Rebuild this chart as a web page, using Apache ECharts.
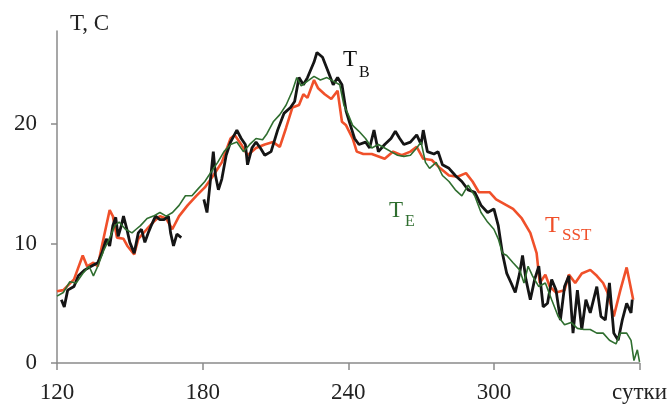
<!DOCTYPE html>
<html><head><meta charset="utf-8">
<script src="https://cdn.jsdelivr.net/npm/echarts@6/dist/echarts.min.js"></script>
<style>html,body{margin:0;padding:0;background:#fff}#c{width:670px;height:404px}</style>
</head><body><div id="c"></div>
<script>
// X ticks (days) and Y ticks
var xTicks = [120, 180, 240, 300, 360];
var xTickLabels = ['120', '180', '240', '300', 'сутки'];
var yTicks = [0, 10, 20];

// T_SST (red)
var daysSST = [120,122.6,127,130.6,132.4,135,136.8,138.5,140.3,141.7,143,144.7,147.4,149,151.8,153.5,157,159.7,162.4,165,167.5,170.3,173.8,177.4,180.9,184.4,187.9,191.5,193.2,195.9,198.5,202,205.6,209,211.8,214.4,217,219.7,221.5,223.2,225.9,227.6,230.3,233,235.6,237.4,239.1,241.8,243.5,246.2,249.7,255,258.5,262,265.6,268.2,270.9,274.4,277.9,281.5,285,288.5,291.2,293.8,298.2,300.9,304.4,307.9,311.5,315,317.6,318.9,321.2,323,325.6,329.1,330.9,333.5,336.2,339.7,342.4,345,346.8,349.4,352.1,354.7,357.4];
var valsSST = [6.0,6.1,7.0,9.0,8.1,8.4,8.1,9.8,11.5,12.8,12.3,10.5,10.4,9.8,9.1,10.4,11.2,11.8,12.3,12.1,11.2,12.3,13.2,14.0,14.7,15.7,16.8,18.8,19.1,18.3,17.4,18.0,18.3,18.5,18.1,19.7,21.4,21.6,22.5,22.2,23.7,23.0,22.5,22.1,22.8,20.2,19.9,18.8,17.7,17.5,17.5,17.1,17.7,17.4,17.7,18.1,17.1,17.0,16.3,15.7,15.6,15.9,15.2,14.3,14.3,13.7,13.3,12.9,12.1,10.9,9.2,6.7,7.4,6.4,5.9,6.1,7.4,6.7,7.5,7.8,7.3,6.7,5.9,3.9,6.1,8.0,5.3];

// T_B (black); '-' marks the gap
var daysB = [121.8,123,124.4,127,128.8,131.5,134.1,136.8,138.5,140.3,141.7,143,144.2,145.2,146.5,147.4,148.8,150,151.8,153.5,154.8,156.2,157.6,158.8,160.6,162.4,164.1,165.9,166.8,168,169.4,171.2,175,180.5,181.8,183,184.4,185.3,186.5,187.9,189.7,191.5,194.1,195.9,197.6,198.5,200.3,202,203.8,205.6,208.2,210.9,213.5,216.2,217.9,219.7,221.5,223.2,225.9,227.1,229.4,232.1,233.8,235.6,237.4,239.1,240.9,242.6,244.4,247.1,248.8,250.6,252.4,255,257.6,259.4,261.2,262.9,265.6,268.2,270,270.9,272.6,275.3,277,278.8,281.5,284.1,286.8,289.4,292.1,294.7,297.4,300,301.8,303.5,305.3,307.1,308.8,310.6,311.8,313.2,315,316.8,318.5,320.3,322.1,323.8,325.6,327.4,329.1,330.9,332.6,334.4,336.2,337.9,339.7,342.4,344.1,345.9,347.6,349.4,351.2,352.9,354.7,356.5,357];
var valsB = [5.3,4.7,6.1,6.4,7.3,7.8,8.1,8.4,9.2,10.4,9.8,11.5,12.2,10.6,11.5,12.3,11.2,10.1,9.2,10.9,11.2,10.1,10.9,11.5,12.3,12.0,12.0,12.3,10.9,9.8,10.8,10.5,'-',13.7,12.6,14.9,17.7,15.7,14.5,15.4,17.4,18.5,19.5,18.8,18.3,16.6,18.0,18.5,18.0,17.4,17.7,19.5,20.9,21.4,21.9,23.9,23.3,23.9,25.2,26.0,25.6,24.2,23.3,23.9,23.3,21.1,19.9,18.8,18.3,18.5,18.0,19.5,17.7,18.3,18.8,19.4,18.8,18.3,18.5,19.1,18.3,19.5,17.7,17.5,17.7,16.6,16.3,15.7,15.2,14.5,14.3,13.2,12.6,12.9,11.5,9.2,7.5,6.7,5.9,7.5,9.0,7.0,5.3,7.0,8.1,4.7,5.0,7.0,6.1,3.6,6.4,7.3,2.5,6.1,2.8,5.3,4.2,6.4,3.9,3.6,6.7,2.5,1.9,3.6,5.0,4.2,5.3];

// T_E (green)
var daysE = [120,122.6,125.3,127.9,130.6,133.2,135,136.8,139.4,142,143.8,145.6,148.2,150.9,152.6,154.4,157.1,159.7,162.4,165,167.6,170.3,172.9,175.6,178.2,180.9,183.5,186.2,188.8,191.5,194.1,196.8,199.4,202,204.7,206.5,209.1,211.8,214.4,217,218.8,220.6,223.2,225.9,228.5,231.2,233.8,236.5,238.2,240,241.8,244.4,247.1,249.7,252.4,255,257.6,260.3,262.9,265.6,268.2,270,271.8,273.5,276.2,278.8,281.5,284.1,286.8,289.4,292.1,294.7,297.4,300,301.8,303.5,305.3,307.9,310.6,312.4,314.1,315.9,318.5,321.2,323.8,326.5,329.1,331.8,334.4,337.1,339.7,342.4,345,347.6,350.3,352.1,354.7,356.5,357.7,359.1,360];
var valsE = [5.6,5.9,6.8,6.7,7.5,8.1,7.3,8.1,9.5,10.6,11.5,11.8,11.2,10.9,11.2,11.5,12.1,12.3,12.6,12.3,12.6,13.2,14.0,14.0,14.6,15.2,16.0,16.8,17.7,18.3,18.5,17.7,18.3,18.8,18.7,19.2,20.2,20.8,21.6,22.8,23.9,23.2,23.6,24.0,23.7,23.9,23.6,23.3,21.6,20.8,19.9,19.4,18.8,18.0,18.3,18.0,17.7,17.4,17.3,17.4,18.0,18.5,16.8,16.3,16.8,15.7,15.2,14.5,14.0,14.9,14.0,12.6,11.8,11.2,10.4,9.2,9.0,8.4,7.8,6.7,8.1,7.3,6.4,6.7,5.3,3.9,3.2,3.4,2.9,2.8,2.8,2.5,2.5,1.9,1.6,2.5,2.5,1.9,0.2,1.1,0.1];

function pairs(d, v) { return d.map(function (x, i) { return [x, v[i]]; }); }

var FONT = '"Liberation Serif","Times New Roman",serif';
var AX = '#8a8a8a';
var chart = echarts.init(document.getElementById('c'), null, {renderer: 'canvas'});
chart.setOption({
  animation: false,
  backgroundColor: '#fff',
  grid: {left: 57, right: 30, top: 31, bottom: 40.5, containLabel: false},
  xAxis: {
    type: 'value', min: 120, max: 360, interval: 60,
    axisLine: {lineStyle: {color: AX, width: 1.5}},
    axisTick: {show: true, length: 7, lineStyle: {color: AX, width: 1.5}},
    splitLine: {show: false},
    axisLabel: {
      margin: 18, color: '#222', fontFamily: FONT, fontSize: 23,
      formatter: function (v) { var i = xTicks.indexOf(v); return i >= 0 ? xTickLabels[i] : ''; }
    }
  },
  yAxis: {
    type: 'value', min: 0, max: 27.8, interval: 10,
    axisLine: {show: true, lineStyle: {color: AX, width: 1.5}},
    axisTick: {show: true, length: 6, customValues: yTicks, lineStyle: {color: AX, width: 1.5}},
    splitLine: {show: false},
    axisLabel: {customValues: yTicks, margin: 20, color: '#222', fontFamily: FONT, fontSize: 23}
  },
  series: [
    {type: 'line', data: pairs(daysSST, valsSST), symbol: 'none', lineStyle: {color: '#f0502a', width: 2.6}, z: 2},
    {type: 'line', data: pairs(daysB, valsB), symbol: 'none', connectNulls: false, lineStyle: {color: '#151515', width: 2.8}, z: 3},
    {type: 'line', data: pairs(daysE, valsE), symbol: 'none', lineStyle: {color: '#2f6e2f', width: 1.6}, z: 4}
  ],
  graphic: [
    {type: 'text', left: 70, top: 12, style: {text: 'T, C', fontFamily: FONT, fontSize: 23, fill: '#222'}},
    {type: 'text', x: 343, y: 60, style: {text: 'T', fontFamily: FONT, fontSize: 23, fill: '#111', verticalAlign: 'middle'}},
    {type: 'text', x: 359, y: 73, style: {text: 'B', fontFamily: FONT, fontSize: 16, fill: '#111', verticalAlign: 'middle'}},
    {type: 'text', x: 389, y: 211, style: {text: 'T', fontFamily: FONT, fontSize: 23, fill: '#2f6e2f', verticalAlign: 'middle'}},
    {type: 'text', x: 405, y: 222, style: {text: 'E', fontFamily: FONT, fontSize: 16, fill: '#2f6e2f', verticalAlign: 'middle'}},
    {type: 'text', x: 545, y: 226, style: {text: 'T', fontFamily: FONT, fontSize: 24, fill: '#f0502a', verticalAlign: 'middle'}},
    {type: 'text', x: 562, y: 236, style: {text: 'SST', fontFamily: FONT, fontSize: 17, fill: '#f0502a', verticalAlign: 'middle'}}
  ]
});
</script></body></html>
